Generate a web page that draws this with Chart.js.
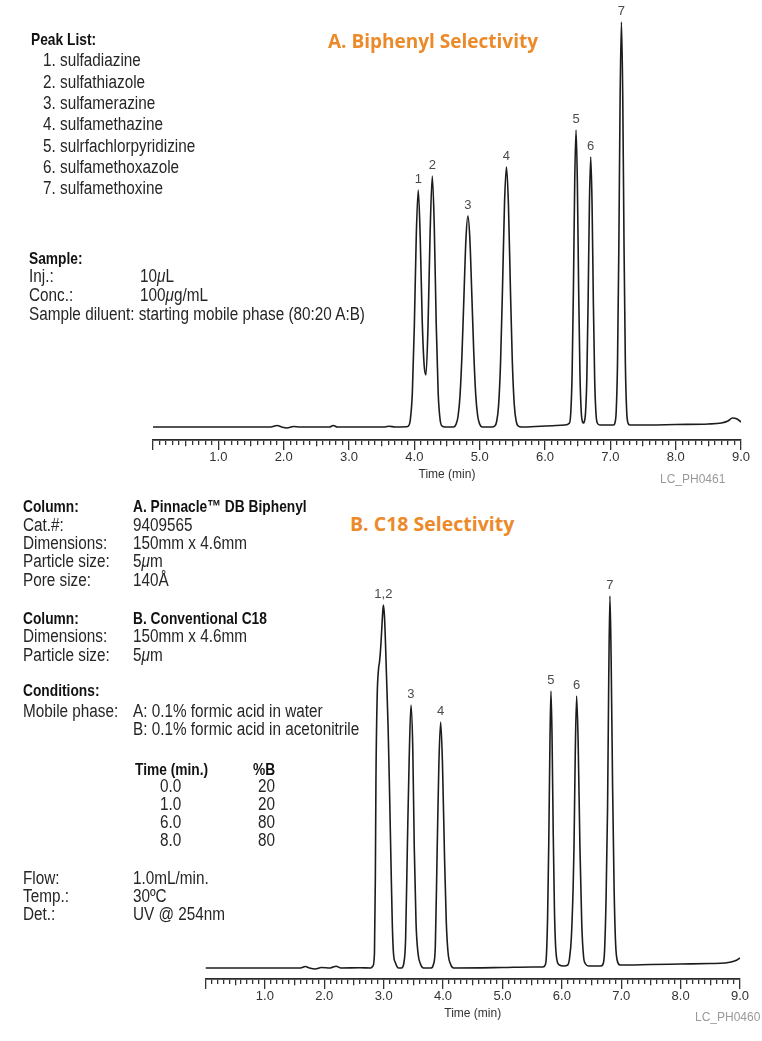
<!DOCTYPE html>
<html><head><meta charset="utf-8">
<script src="https://cdn.jsdelivr.net/npm/chart.js@4/dist/chart.umd.min.js"></script>
<style>
html,body{margin:0;padding:0;background:#fff;}
body{width:762px;height:1041px;position:relative;overflow:hidden;font-family:"Liberation Sans",Arial,sans-serif;color:#262626;}
.t{position:absolute;white-space:nowrap;font-size:18px;line-height:19px;height:19px;transform:scaleX(0.85);transform-origin:0 0;}
.t.b{font-weight:bold;font-size:17px;color:#111;transform:scaleX(0.81);}
.ttl{position:absolute;white-space:nowrap;font-family:"Open Sans",sans-serif;font-weight:700;color:#EC8A2A;font-size:19px;line-height:24px;}
.code{position:absolute;white-space:nowrap;font-family:"Liberation Sans",sans-serif;color:#9a9a9a;font-size:12px;line-height:14px;}
i{font-style:italic;}
canvas{position:absolute;left:0;}
</style>
</head>
<body>
<canvas id="chartA" width="762" height="500" style="top:0"></canvas>
<canvas id="chartB" width="762" height="481" style="top:560px"></canvas>

<div class="ttl" style="left:328px;top:29px">A. Biphenyl Selectivity</div>
<div class="ttl" style="left:350px;top:512px;font-size:19.5px">B. C18 Selectivity</div>
<div class="code" style="left:660px;top:472px">LC_PH0461</div>
<div class="code" style="left:695px;top:1010px">LC_PH0460</div>

<div class="t b" style="left:31px;top:30px">Peak List:</div>
<div class="t" style="left:43px;top:51px">1. sulfadiazine</div>
<div class="t" style="left:43px;top:72.5px">2. sulfathiazole</div>
<div class="t" style="left:43px;top:94px">3. sulfamerazine</div>
<div class="t" style="left:43px;top:115px">4. sulfamethazine</div>
<div class="t" style="left:43px;top:136.5px">5. sulrfachlorpyridizine</div>
<div class="t" style="left:43px;top:158px">6. sulfamethoxazole</div>
<div class="t" style="left:43px;top:179px">7. sulfamethoxine</div>

<div class="t b" style="left:29px;top:248.5px">Sample:</div>
<div class="t" style="left:29px;top:267px">Inj.:</div>
<div class="t" style="left:140px;top:267px">10<i>μ</i>L</div>
<div class="t" style="left:29px;top:286px">Conc.:</div>
<div class="t" style="left:140px;top:286px">100<i>μ</i>g/mL</div>
<div class="t" style="left:29px;top:305px">Sample diluent: starting mobile phase (80:20 A:B)</div>

<div class="t b" style="left:23px;top:497px">Column:</div>
<div class="t b" style="left:133px;top:497px">A. Pinnacle™ DB Biphenyl</div>
<div class="t" style="left:23px;top:515.5px">Cat.#:</div>
<div class="t" style="left:133px;top:515.5px">9409565</div>
<div class="t" style="left:23px;top:534px">Dimensions:</div>
<div class="t" style="left:133px;top:534px">150mm x 4.6mm</div>
<div class="t" style="left:23px;top:552px">Particle size:</div>
<div class="t" style="left:133px;top:552px">5<i>μ</i>m</div>
<div class="t" style="left:23px;top:570.5px">Pore size:</div>
<div class="t" style="left:133px;top:570.5px">140Å</div>

<div class="t b" style="left:23px;top:609px">Column:</div>
<div class="t b" style="left:133px;top:609px">B. Conventional C18</div>
<div class="t" style="left:23px;top:627px">Dimensions:</div>
<div class="t" style="left:133px;top:627px">150mm x 4.6mm</div>
<div class="t" style="left:23px;top:645.5px">Particle size:</div>
<div class="t" style="left:133px;top:645.5px">5<i>μ</i>m</div>

<div class="t b" style="left:23px;top:680.5px">Conditions:</div>
<div class="t" style="left:23px;top:701.5px">Mobile phase:</div>
<div class="t" style="left:133px;top:701.5px">A: 0.1% formic acid in water</div>
<div class="t" style="left:133px;top:720px">B: 0.1% formic acid in acetonitrile</div>
<div class="t b" style="left:135px;top:759.5px">Time (min.)</div>
<div class="t b" style="left:253px;top:759.5px">%B</div>
<div class="t" style="left:160px;top:777px">0.0</div><div class="t" style="left:258px;top:777px">20</div>
<div class="t" style="left:160px;top:795px">1.0</div><div class="t" style="left:258px;top:795px">20</div>
<div class="t" style="left:160px;top:813px">6.0</div><div class="t" style="left:258px;top:813px">80</div>
<div class="t" style="left:160px;top:831px">8.0</div><div class="t" style="left:258px;top:831px">80</div>
<div class="t" style="left:23px;top:868.5px">Flow:</div>
<div class="t" style="left:133px;top:868.5px">1.0mL/min.</div>
<div class="t" style="left:23px;top:886.5px">Temp.:</div>
<div class="t" style="left:133px;top:886.5px">30ºC</div>
<div class="t" style="left:23px;top:904.5px">Det.:</div>
<div class="t" style="left:133px;top:904.5px">UV @ 254nm</div>

<script>
// ---- Chromatogram A: Pinnacle DB Biphenyl (time in min, detector signal in arbitrary units) ----
const timeA = [0, 1.80, 1.90, 1.97, 2.05, 2.15, 2.25, 2.70, 2.76, 2.82, 3.55, 3.62, 3.70, 3.88,
  3.91, 3.94, 3.97, 4.00, 4.03, 4.06, 4.09, 4.12, 4.15, 4.178, 4.21, 4.24, 4.275, 4.305, 4.335, 4.365, 4.395, 4.425, 4.47,
  4.60, 4.64, 4.67, 4.70, 4.73, 4.76, 4.79, 4.82, 4.85, 4.88, 4.91, 4.94, 4.97, 5.00, 5.04,
  5.19, 5.23, 5.26, 5.29, 5.32, 5.35, 5.38, 5.41, 5.44, 5.47, 5.50, 5.53, 5.56, 5.59, 5.64,
  6.00, 6.30, 6.375, 6.395, 6.415, 6.435, 6.455, 6.475, 6.495, 6.515, 6.535, 6.555, 6.575, 6.588,
  6.60, 6.62, 6.64, 6.66, 6.68, 6.70, 6.72, 6.74, 6.76, 6.78, 6.80, 6.84,
  7.05, 7.07, 7.09, 7.11, 7.13, 7.15, 7.17, 7.19, 7.21, 7.23, 7.25, 7.27, 7.30,
  7.60, 8.00, 8.50, 8.70, 8.80, 8.87, 8.94, 9.00];
const signalA = [0, 0, 1.5, 0, -1, 0.5, 0, 0, 1.5, 0, 0, 0.8, 0, 0.3,
  1, 8, 35, 101, 192, 237, 190, 108, 62, 52, 102, 190, 251, 201, 103, 34, 7, 1, 0,
  0, 3, 11, 32, 74, 132, 188, 211, 188, 132, 74, 32, 11, 3, 0,
  0, 1, 5.5, 22, 65, 140, 223, 260, 223, 140, 65, 22, 5.5, 1, 0,
  1, 2, 4, 15, 53, 138, 246, 297, 246, 138, 53, 15, 5, 4,
  5, 14, 48, 126, 224, 270, 224, 126, 48, 14, 4, 2,
  2, 4, 16, 64, 178, 331, 405, 331, 178, 64, 16, 4, 2,
  2, 2.5, 3, 4, 6, 9, 8, 5];
const peakLabelsA = ['1', '2', '3', '4', '5', '6', '7'];
const peakTimesA = [4.06, 4.275, 4.82, 5.41, 6.475, 6.70, 7.17];
const peakHeightsA = [237, 251, 211, 260, 297, 270, 405];

// ---- Chromatogram B: conventional C18 ----
const timeB = [0, 1.60, 1.68, 1.75, 1.85, 1.95, 2.10, 2.20, 2.28, 2.60, 2.78,
  2.82, 2.845, 2.86, 2.87, 2.89, 2.915, 2.93, 2.955, 2.98, 2.995, 3.015, 3.05, 3.075, 3.095, 3.125, 3.145, 3.165, 3.20, 3.25,
  3.30, 3.34, 3.37, 3.40, 3.43, 3.46, 3.49, 3.515, 3.545, 3.58, 3.62, 3.67,
  3.80, 3.84, 3.87, 3.90, 3.93, 3.96, 3.99, 4.025, 4.055, 4.085, 4.125, 4.18,
  5.00, 5.50, 5.68,
  5.72, 5.74, 5.76, 5.78, 5.80, 5.817, 5.835, 5.855, 5.875, 5.895, 5.925, 5.96, 6.03,
  6.10, 6.13, 6.16, 6.19, 6.205, 6.225, 6.249, 6.275, 6.305, 6.335, 6.365, 6.40, 6.45,
  6.66, 6.70, 6.72, 6.745, 6.77, 6.79, 6.81, 6.83, 6.855, 6.88, 6.905, 6.935, 6.98,
  7.50, 8.00, 8.50, 8.75, 8.85, 8.95, 9.00];
const signalB = [0, 0, 1.5, 0, -1, 0.5, 0, 1.8, 0, 0.3, 0,
  2, 15, 90, 188, 270, 300, 306, 325, 352, 363, 350, 288, 240, 188, 100, 45, 15, 5, 0,
  0, 5, 30, 125, 210, 263, 220, 121, 45, 14, 4, 0,
  0, 4, 22, 115, 205, 246, 205, 110, 45, 15, 4, 0,
  0.5, 1, 1,
  3, 12, 50, 125, 226, 277, 232, 135, 60, 22, 6, 3, 2,
  3, 10, 30, 80, 121, 210, 272, 225, 120, 45, 12, 4, 2,
  2, 5, 18, 70, 160, 290, 372, 310, 180, 80, 25, 7, 3,
  3.5, 4, 4.5, 5, 6, 8, 10];
const peakLabelsB = ['1,2', '3', '4', '5', '6', '7'];
const peakTimesB = [2.995, 3.46, 3.96, 5.817, 6.249, 6.81];
const peakHeightsB = [363, 263, 246, 277, 272, 372];

// axis
const axisMin = 0, axisMax = 9, minorStep = 0.1;
const axisTitle = 'Time (min)';

const near = (v, k) => Math.abs(v * k - Math.round(v * k)) < 1e-6;

const peakLabelPlugin = {
  id: 'peakLabels',
  afterDatasetsDraw(chart, args, opts) {
    const {ctx} = chart;
    const xs = chart.scales.x, ys = chart.scales.y;
    ctx.save();
    ctx.font = '13px "Liberation Sans", sans-serif';
    ctx.fillStyle = '#4a4a4a';
    ctx.textAlign = 'center';
    ctx.textBaseline = 'bottom';
    opts.labels.forEach((lab, i) => {
      ctx.fillText(lab, xs.getPixelForValue(opts.times[i]), ys.getPixelForValue(opts.heights[i]) - 4);
    });
    ctx.restore();
  }
};

function makeChart(id, times, signal, labels, ltimes, lheights, pad, yMin, yMax) {
  const pts = times.map((t, i) => ({x: t, y: signal[i]}));
  return new Chart(document.getElementById(id), {
    type: 'line',
    data: {datasets: [{data: pts, borderColor: '#1c1c1c', borderWidth: 1.6, pointRadius: 0,
      cubicInterpolationMode: 'monotone', fill: false}]},
    options: {
      responsive: false, animation: false, events: [],
      layout: {padding: pad},
      plugins: {legend: {display: false}, tooltip: {enabled: false},
        peakLabels: {labels: labels, times: ltimes, heights: lheights}},
      scales: {
        x: {type: 'linear', min: axisMin, max: axisMax, position: 'bottom',
          border: {display: true, color: '#2a2a2a', width: 1.8},
          grid: {drawOnChartArea: false, drawTicks: true, tickLength: 10, color: '#333', lineWidth: 1.3,
            tickBorderDash: (c) => {
              if (!c.tick) return [];
              const v = c.tick.value;
              if (near(v, 1)) return [];
              if (near(v, 2)) return [5.5, 30];
              return [4.3, 30];
            }},
          ticks: {stepSize: minorStep, maxTicksLimit: 200, autoSkip: false, maxRotation: 0, minRotation: 0,
            padding: 0, color: '#333', font: {family: '"Liberation Sans", sans-serif', size: 13},
            callback: (v) => (near(v, 1) && v > 0.5) ? Number(v).toFixed(1) : ''},
          title: {display: true, text: axisTitle, color: '#333', padding: {top: 2, bottom: 0},
            font: {family: '"Liberation Sans", sans-serif', size: 12}}
        },
        y: {display: false, min: yMin, max: yMax}
      }
    },
    plugins: [peakLabelPlugin]
  });
}

makeChart('chartA', timeA, signalA, peakLabelsA, peakTimesA, peakHeightsA,
  {left: 153, right: 21, top: 10, bottom: 18}, -13, 417);
makeChart('chartB', timeB, signalB, peakLabelsB, peakTimesB, peakHeightsB,
  {left: 205.5, right: 22, top: 20, bottom: 20}, -11, 388);
</script>
</body></html>
